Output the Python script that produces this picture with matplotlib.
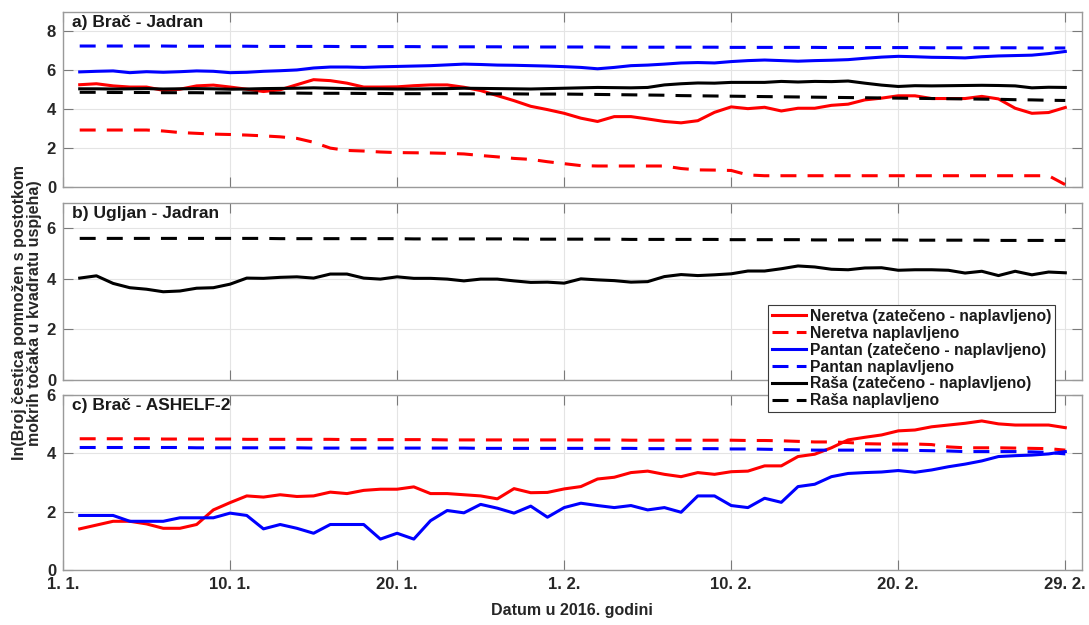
import matplotlib
matplotlib.use('Agg')
import matplotlib.pyplot as plt
from matplotlib.lines import Line2D

# ---------------- data ----------------
days = list(range(1, 61))
tick_pos = [0, 10, 20, 30, 40, 50, 60]
tick_labels = ['1. 1.', '10. 1.', '20. 1.', '1. 2.', '10. 2.', '20. 2.', '29. 2.']

panel_titles = ['a) Brač - Jadran', 'b) Ugljan - Jadran', 'c) Brač - ASHELF-2']
legend_labels = ['Neretva (zatečeno - naplavljeno)', 'Neretva naplavljeno',
                 'Pantan (zatečeno - naplavljeno)', 'Pantan naplavljeno',
                 'Raša (zatečeno - naplavljeno)', 'Raša naplavljeno']

# Panel a) Brač - Jadran
a_neretva = [5.26, 5.31, 5.20, 5.14, 5.14, 4.97, 5.03, 5.20, 5.24, 5.14,
             5.03, 4.91, 5.00, 5.26, 5.52, 5.47, 5.34, 5.14, 5.14, 5.15,
             5.21, 5.25, 5.25, 5.13, 4.96, 4.70, 4.44, 4.15, 3.98, 3.79,
             3.54, 3.37, 3.62, 3.62, 3.50, 3.37, 3.30, 3.41, 3.84, 4.12,
             4.03, 4.10, 3.91, 4.05, 4.05, 4.20, 4.26, 4.48, 4.57, 4.69,
             4.69, 4.55, 4.55, 4.55, 4.66, 4.53, 4.05, 3.79, 3.83, 4.09]
a_neretva_napl = [2.93, 2.93, 2.93, 2.93, 2.93, 2.88, 2.80, 2.76, 2.72, 2.70,
                  2.67, 2.63, 2.58, 2.50, 2.30, 2.00, 1.88, 1.85, 1.80, 1.77,
                  1.76, 1.75, 1.73, 1.70, 1.62, 1.55, 1.47, 1.42, 1.30, 1.20,
                  1.10, 1.08, 1.08, 1.08, 1.08, 1.08, 0.95, 0.88, 0.87, 0.85,
                  0.62, 0.58, 0.58, 0.58, 0.58, 0.58, 0.58, 0.58, 0.58, 0.58,
                  0.58, 0.58, 0.58, 0.58, 0.58, 0.58, 0.58, 0.58, 0.58, 0.12]
a_pantan = [5.92, 5.95, 5.97, 5.88, 5.93, 5.90, 5.93, 5.97, 5.95, 5.88,
            5.90, 5.95, 5.98, 6.02, 6.12, 6.17, 6.17, 6.15, 6.18, 6.20,
            6.22, 6.24, 6.28, 6.32, 6.30, 6.27, 6.26, 6.24, 6.22, 6.19,
            6.15, 6.08, 6.15, 6.24, 6.27, 6.32, 6.38, 6.40, 6.38, 6.45,
            6.50, 6.53, 6.50, 6.47, 6.50, 6.52, 6.55, 6.62, 6.68, 6.72,
            6.70, 6.67, 6.66, 6.64, 6.70, 6.74, 6.76, 6.78, 6.86, 6.97]
a_pantan_napl = [7.25, 7.25, 7.25, 7.25, 7.25, 7.25, 7.24, 7.24, 7.24, 7.24,
                 7.24, 7.23, 7.23, 7.23, 7.23, 7.23, 7.22, 7.22, 7.22, 7.22,
                 7.22, 7.21, 7.21, 7.21, 7.21, 7.21, 7.20, 7.20, 7.20, 7.20,
                 7.20, 7.20, 7.19, 7.19, 7.19, 7.19, 7.19, 7.19, 7.19, 7.18,
                 7.18, 7.18, 7.18, 7.18, 7.18, 7.17, 7.17, 7.17, 7.17, 7.17,
                 7.17, 7.16, 7.16, 7.16, 7.16, 7.16, 7.16, 7.15, 7.15, 7.15]
a_rasa = [5.05, 5.05, 5.04, 5.05, 5.06, 5.04, 5.05, 5.06, 5.05, 5.03,
          5.04, 5.06, 5.07, 5.08, 5.10, 5.08, 5.06, 5.05, 5.05, 5.04,
          5.04, 5.05, 5.06, 5.08, 5.07, 5.06, 5.05, 5.04, 5.06, 5.08,
          5.10, 5.12, 5.11, 5.10, 5.12, 5.25, 5.31, 5.35, 5.34, 5.38,
          5.38, 5.38, 5.43, 5.40, 5.43, 5.42, 5.45, 5.34, 5.24, 5.17,
          5.21, 5.20, 5.21, 5.22, 5.23, 5.22, 5.20, 5.10, 5.13, 5.12]
a_rasa_napl = [4.87, 4.87, 4.86, 4.86, 4.86, 4.85, 4.85, 4.85, 4.84, 4.84,
               4.84, 4.83, 4.83, 4.83, 4.82, 4.82, 4.82, 4.81, 4.81, 4.80,
               4.80, 4.80, 4.80, 4.79, 4.79, 4.79, 4.79, 4.78, 4.78, 4.78,
               4.77, 4.76, 4.75, 4.74, 4.73, 4.72, 4.70, 4.69, 4.68, 4.67,
               4.66, 4.65, 4.64, 4.63, 4.62, 4.61, 4.60, 4.59, 4.58, 4.57,
               4.56, 4.55, 4.54, 4.53, 4.52, 4.51, 4.49, 4.48, 4.46, 4.45]

# Panel b) Ugljan - Jadran
b_rasa = [4.03, 4.12, 3.82, 3.65, 3.59, 3.49, 3.52, 3.63, 3.65, 3.79,
          4.03, 4.02, 4.06, 4.08, 4.03, 4.19, 4.19, 4.03, 3.99, 4.08,
          4.02, 4.02, 3.99, 3.92, 3.99, 3.99, 3.92, 3.86, 3.87, 3.83,
          4.00, 3.96, 3.93, 3.87, 3.89, 4.09, 4.17, 4.13, 4.16, 4.20,
          4.31, 4.31, 4.40, 4.51, 4.47, 4.38, 4.36, 4.43, 4.44, 4.34,
          4.36, 4.36, 4.34, 4.23, 4.30, 4.13, 4.30, 4.16, 4.27, 4.24]
b_rasa_napl = [5.60, 5.60, 5.60, 5.60, 5.60, 5.60, 5.60, 5.60, 5.60, 5.60,
               5.60, 5.60, 5.59, 5.59, 5.59, 5.59, 5.59, 5.59, 5.59, 5.59,
               5.58, 5.58, 5.58, 5.58, 5.58, 5.58, 5.58, 5.57, 5.57, 5.57,
               5.57, 5.57, 5.57, 5.56, 5.56, 5.56, 5.56, 5.56, 5.56, 5.55,
               5.55, 5.55, 5.55, 5.55, 5.54, 5.54, 5.54, 5.54, 5.54, 5.54,
               5.53, 5.53, 5.53, 5.53, 5.53, 5.52, 5.52, 5.52, 5.52, 5.52]

# Panel c) Brač - ASHELF-2
c_neretva = [1.41, 1.54, 1.67, 1.67, 1.58, 1.43, 1.43, 1.56, 2.06, 2.31,
             2.54, 2.50, 2.58, 2.52, 2.54, 2.67, 2.62, 2.73, 2.77, 2.77,
             2.85, 2.62, 2.62, 2.58, 2.54, 2.44, 2.79, 2.65, 2.66, 2.78,
             2.86, 3.12, 3.18, 3.34, 3.39, 3.28, 3.20, 3.34, 3.28, 3.37,
             3.39, 3.57, 3.57, 3.89, 3.97, 4.19, 4.46, 4.55, 4.63, 4.77,
             4.80, 4.91, 4.97, 5.03, 5.11, 5.01, 4.97, 4.97, 4.97, 4.88]
c_neretva_napl = [4.50, 4.50, 4.50, 4.50, 4.50, 4.49, 4.49, 4.49, 4.49, 4.49,
                  4.48, 4.48, 4.48, 4.48, 4.48, 4.48, 4.47, 4.47, 4.47, 4.47,
                  4.47, 4.47, 4.46, 4.46, 4.46, 4.46, 4.46, 4.46, 4.46, 4.46,
                  4.46, 4.46, 4.46, 4.45, 4.45, 4.45, 4.45, 4.45, 4.45, 4.45,
                  4.44, 4.44, 4.43, 4.41, 4.39, 4.39, 4.37, 4.33, 4.32, 4.32,
                  4.32, 4.30, 4.22, 4.19, 4.19, 4.19, 4.18, 4.17, 4.16, 4.11]
c_pantan = [1.87, 1.87, 1.87, 1.67, 1.67, 1.67, 1.79, 1.79, 1.79, 1.95,
            1.87, 1.41, 1.56, 1.43, 1.26, 1.56, 1.56, 1.56, 1.06, 1.26,
            1.06, 1.69, 2.04, 1.96, 2.25, 2.12, 1.95, 2.19, 1.81, 2.14,
            2.29, 2.21, 2.14, 2.21, 2.06, 2.14, 1.98, 2.54, 2.54, 2.21,
            2.14, 2.46, 2.32, 2.86, 2.94, 3.20, 3.31, 3.34, 3.36, 3.41,
            3.35, 3.43, 3.54, 3.63, 3.74, 3.89, 3.92, 3.94, 3.98, 4.06]
c_pantan_napl = [4.20, 4.20, 4.20, 4.20, 4.20, 4.20, 4.20, 4.19, 4.19, 4.19,
                 4.19, 4.19, 4.19, 4.19, 4.18, 4.18, 4.18, 4.18, 4.18, 4.18,
                 4.18, 4.18, 4.18, 4.18, 4.17, 4.17, 4.17, 4.17, 4.17, 4.17,
                 4.17, 4.17, 4.17, 4.17, 4.16, 4.16, 4.16, 4.16, 4.16, 4.15,
                 4.15, 4.14, 4.13, 4.12, 4.11, 4.11, 4.11, 4.11, 4.11, 4.11,
                 4.10, 4.09, 4.08, 4.06, 4.06, 4.06, 4.06, 4.05, 4.03, 3.98]

# ---------------- style ----------------
plt.rcParams['font.family'] = ['Liberation Sans', 'DejaVu Sans']
plt.rcParams['font.weight'] = 'bold'
plt.rcParams['lines.scale_dashes'] = False

RED, BLUE, BLACK = '#ff0000', '#0000ff', '#000000'
LW = 2.2
DASH = (0, (11.5, 8.0))
TXT = '#262626'
SPINE = '#9a9a9a'

fig = plt.figure(figsize=(10.89, 6.25), dpi=100)
W_PX, H_PX = 1089.0, 625.0
left_px, right_px = 63, 1082
boxes = [(12, 187), (203, 380), (395, 570)]
ylims = [9, 7, 6]
yticks = [[0, 2, 4, 6, 8], [0, 2, 4, 6], [0, 2, 4, 6]]

axes = []
for (top, bot), ymax, yt, title in zip(boxes, ylims, yticks, panel_titles):
    ax = fig.add_axes([left_px / W_PX, 1 - bot / H_PX,
                       (right_px - left_px) / W_PX, (bot - top) / H_PX])
    ax.set_xlim(0, 61)
    ax.set_ylim(0, ymax)
    ax.set_xticks(tick_pos)
    ax.set_yticks(yt)
    ax.grid(True, color='#e4e4e4', linewidth=0.8)
    ax.set_axisbelow(True)
    for s in ax.spines.values():
        s.set_color(SPINE)
        s.set_linewidth(1.0)
    ax.tick_params(direction='in', length=7, width=0.8, color='#7a7a7a',
                   top=True, right=True, labelsize=12, labelcolor=TXT, pad=5)
    for lab in ax.get_yticklabels():
        lab.set_fontweight('bold')
    ax.text(0.009, 0.985, title, transform=ax.transAxes, ha='left', va='top',
            fontsize=12.5, fontweight='bold', color='#1a1a1a')
    axes.append(ax)

ax_a, ax_b, ax_c = axes
for ax in (ax_a, ax_b):
    ax.tick_params(labelbottom=False)
ax_c.set_xticklabels(tick_labels, fontweight='bold')
ax_c.tick_params(axis='x', pad=5)

# panel a
ax_a.plot(days, a_neretva, color=RED, lw=LW)
ax_a.plot(days, a_neretva_napl, color=RED, lw=LW, linestyle=DASH, dash_capstyle='butt')
ax_a.plot(days, a_pantan, color=BLUE, lw=LW)
ax_a.plot(days, a_pantan_napl, color=BLUE, lw=LW, linestyle=DASH, dash_capstyle='butt')
ax_a.plot(days, a_rasa, color=BLACK, lw=LW)
ax_a.plot(days, a_rasa_napl, color=BLACK, lw=LW, linestyle=DASH, dash_capstyle='butt')

# panel b
ax_b.plot(days, b_rasa, color=BLACK, lw=LW)
ax_b.plot(days, b_rasa_napl, color=BLACK, lw=LW, linestyle=DASH, dash_capstyle='butt')

# panel c
ax_c.plot(days, c_neretva, color=RED, lw=LW)
ax_c.plot(days, c_neretva_napl, color=RED, lw=LW, linestyle=DASH, dash_capstyle='butt')
ax_c.plot(days, c_pantan, color=BLUE, lw=LW)
ax_c.plot(days, c_pantan_napl, color=BLUE, lw=LW, linestyle=DASH, dash_capstyle='butt')

# legend
handles = []
for col in (RED, BLUE, BLACK):
    handles.append(Line2D([], [], color=col, lw=LW))
    handles.append(Line2D([], [], color=col, lw=LW, linestyle=(0, (11.5, 6.0)),
                          dash_capstyle='butt'))
leg = fig.legend(handles, legend_labels, loc='upper left',
                 bbox_to_anchor=(768 / W_PX, 1 - 305 / H_PX),
                 prop={'size': 11.3, 'weight': 'bold'}, frameon=True,
                 fancybox=False, framealpha=1.0, edgecolor='#3a3a3a',
                 handlelength=2.2, handletextpad=0.2, labelspacing=0.12,
                 borderpad=0.25, borderaxespad=0.0)
leg.get_frame().set_linewidth(0.8)
for t in leg.get_texts():
    t.set_color('#1a1a1a')

# axis labels
fig.text(27 / W_PX, 1 - 313 / H_PX,
         'ln(Broj čestica pomnožen s postotkom\nmokrih točaka u kvadratu uspjeha)',
         rotation=90, ha='center', va='center', multialignment='center',
         fontsize=11.5, fontweight='bold', color=TXT, linespacing=1.05)
fig.text(572 / W_PX, 1 - 611 / H_PX, 'Datum u 2016. godini', ha='center',
         va='center', fontsize=11.5, fontweight='bold', color=TXT)

fig.savefig('out.png', dpi=100)
